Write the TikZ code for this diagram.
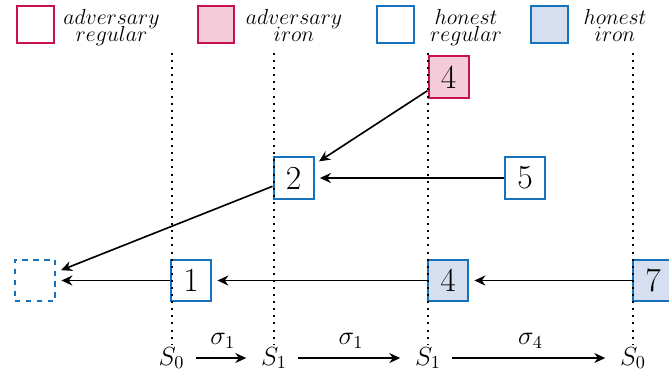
\documentclass[tikz,border=0pt]{standalone}
\usetikzlibrary{arrows.meta}
\definecolor{advred}{RGB}{200,16,82}
\definecolor{advfill}{RGB}{243,203,217}
\definecolor{honblue}{RGB}{22,114,188}
\definecolor{honfill}{RGB}{213,223,240}
\newcommand\mylegfont{\fontsize{13.2}{14}\selectfont}
\begin{document}
\begin{tikzpicture}[x=0.55pt,y=-0.55pt,
  blk/.style={draw, line width=1.1pt, minimum width=22pt, minimum height=23pt, inner sep=0pt, font=\fontsize{18.5}{20}\selectfont, anchor=west},
  advreg/.style={blk, draw=advred, fill=white},
  adviron/.style={blk, draw=advred, fill=advfill},
  honreg/.style={blk, draw=honblue, fill=white},
  honiron/.style={blk, draw=honblue, fill=honfill},
  legbox/.style={line width=1.1pt, minimum width=20.3pt, minimum height=20.3pt, inner sep=0pt},
  legtxt/.style={anchor=base, inner sep=0pt, font=\mylegfont},
  conn/.style={line width=0.9pt, -{Stealth[length=6pt,width=5.5pt]}, shorten >=3pt},
  vdots/.style={line width=1.1pt, dash pattern=on 1.1pt off 2.8pt},
  slabel/.style={font=\Large, inner sep=1pt, anchor=base},
  trans/.style={line width=0.9pt, -{Stealth[length=6pt,width=5.5pt]}, shorten <=5pt, shorten >=7pt},
  siglabel/.style={midway, above, font=\Large, inner sep=0pt, yshift=5pt},
]
\useasboundingbox (0,0) rectangle (669,377);

% legend
\node[legbox, draw=advred, fill=white] (l1) at (35.5,24.5) {};
\node[legtxt] (t1a) at (111.5,24) {$adversary$};
\node[legtxt] (t1b) at (111.5,41.5) {$regular$};
\node[legbox, draw=advred, fill=advfill] (l2) at (216,24.5) {};
\node[legtxt] (t2a) at (294,24) {$adversary$};
\node[legtxt] (t2b) at (294,41.5) {$iron$};
\node[legbox, draw=honblue, fill=white] (l3) at (395.5,24.5) {};
\node[legtxt] (t3a) at (466,24) {$honest$};
\node[legtxt] (t3b) at (466,41.5) {$regular$};
\node[legbox, draw=honblue, fill=honfill] (l4) at (549.7,24.5) {};
\node[legtxt] (t4a) at (615,24) {$honest$};
\node[legtxt] (t4b) at (615,41.5) {$iron$};

% blocks
\node[adviron] (a4) at (427.5,77) {4};
\node[honreg] (h2) at (272.5,178) {2};
\node[honreg] (h5) at (504,178) {5};
\node[honreg] (h1) at (170,280.5) {1};
\node[honiron] (h4) at (427,280.5) {4};
\node[honiron] (h7) at (632,280.5) {7};
\node[blk, draw=honblue, dashed] (d) at (14,280.5) {};

% connectors
\draw[conn] (a4) -- (h2);
\draw[conn] (h5) -- (h2);
\draw[conn] (h2) -- (d);
\draw[conn] (h1) -- (d);
\draw[conn] (h4) -- (h1);
\draw[conn] (h7) -- (h4);

% state labels
\node[slabel] (s0) at (171.5,365) {$S_0$};
\node[slabel] (s1) at (274,365) {$S_1$};
\node[slabel] (s2) at (428,365) {$S_1$};
\node[slabel] (s3) at (633,365) {$S_0$};

\draw[trans] (s0) -- (s1) node[siglabel] {$\sigma_1$};
\draw[trans] (s1) -- (s2) node[siglabel] {$\sigma_1$};
\draw[trans] (s2) -- (s3) node[siglabel] {$\sigma_4$};

% dotted verticals
\coordinate (v0) at (171.5,53);
\coordinate (v1) at (274,53);
\coordinate (v2) at (428,53);
\coordinate (v3) at (633,53);
\draw[vdots] (v0) -- (s0);
\draw[vdots] (v1) -- (s1);
\draw[vdots] (v2) -- (s2);
\draw[vdots] (v3) -- (s3);
\end{tikzpicture}
\end{document}
